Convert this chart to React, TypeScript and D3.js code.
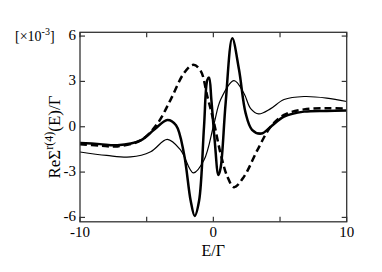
import React from "react";
import * as d3 from "d3";

const thinE = [-10, -8, -6.2, -4.7, -3.45, -2.45, -1.5, -0.7, 0.05, 0.55, 1.55, 2.3, 2.8, 3.4, 4.3, 5.3, 6.8, 8.5, 10];
const thinV = [-1.67, -1.9, -2.0, -1.65, -0.84, -1.55, -3.05, -2.2, 0.2, 1.8, 3.05, 2.2, 1.2, 0.85, 1.2, 1.8, 2.0, 1.9, 1.67];

const thickE = [-10, -8.5, -7.2, -5.45, -4.45, -3.45, -2.8, -2.2, -1.7, -1.4, -1.07, -0.7, -0.45, -0.32, -0.15, 0.1, 0.38, 0.55, 0.92, 1.42, 1.92, 2.42, 2.9, 3.6, 4.3, 5.3, 6.8, 8.5, 10];
const thickV = [-1.07, -1.15, -1.22, -0.9, -0.2, 0.45, 0.1, -1.8, -4.9, -5.9, -4.9, 0, 3.1, 3.25, 1.8, -0.9, -3.2, -2.7, 1.55, 5.85, 3.8, 0.9, -0.2, -0.45, 0, 0.67, 1.0, 1.05, 1.07];

const dashE = [-10, -8.5, -7.2, -5.45, -4.2, -3.2, -2.2, -1.5, -0.95, -0.45, 0, 0.55, 1.05, 1.55, 2.3, 3.3, 4.3, 5.3, 6.8, 8.5, 10];
const dashV = [-1.15, -1.25, -1.3, -0.9, 0.2, 1.8, 3.55, 4.1, 3.7, 2.0, 0.45, -1.8, -3.3, -4.0, -3.3, -1.55, 0, 0.78, 1.15, 1.22, 1.2];

const xTicks = [-10, -5, 0, 5, 10];
const xLabels = ["-10", "", "0", "", "10"];
const yTicks = [-6, -3, 0, 3, 6];
const yLabels = ["-6", "-3", "0", "3", "6"];

export default function App() {
  const W = 382, H = 272;
  const left = 80, right = 346.7, top = 32.3, bottom = 221.8;
  const x = d3.scaleLinear().domain([-10, 10]).range([left, right]);
  const y = d3.scaleLinear().domain([-6.29, 6.25]).range([bottom, top]);
  const line = (es: number[], vs: number[]) =>
    d3.line<number>().x((_, i) => x(es[i])).y((_, i) => y(vs[i])).curve(d3.curveCatmullRom.alpha(0.5))(vs) || "";
  const ts: React.CSSProperties = { fontFamily: '"Liberation Serif", "DejaVu Serif", serif' };
  const tl = 5;
  return (
    <svg width={W} height={H} style={{ position: "absolute", left: 0, top: 0 }}>
      <rect x={0} y={0} width={W} height={H} fill="#fff" />
      <defs>
        <clipPath id="pc"><rect x={left} y={top} width={right - left} height={bottom - top} /></clipPath>
      </defs>
      <g clipPath="url(#pc)" fill="none" stroke="#000">
        <path d={line(thinE, thinV)} strokeWidth={1.2} />
        <path d={line(thickE, thickV)} strokeWidth={2.5} />
        <path d={line(dashE, dashV)} strokeWidth={2.5} strokeDasharray="7,4" />
      </g>
      <rect x={left} y={top} width={right - left} height={bottom - top} fill="none" stroke="#333" strokeWidth={1.3} />
      {xTicks.map((t, i) => (
        <g key={"x" + i}>
          <line x1={x(t)} x2={x(t)} y1={bottom} y2={bottom - tl} stroke="#333" strokeWidth={1.2} />
          <line x1={x(t)} x2={x(t)} y1={top} y2={top + tl} stroke="#333" strokeWidth={1.2} />
          <text x={x(t)} y={bottom + 15} fontSize={15} textAnchor="middle" style={ts}>{xLabels[i]}</text>
        </g>
      ))}
      {yTicks.map((t, i) => (
        <g key={"y" + i}>
          <line x1={left} x2={left + tl} y1={y(t)} y2={y(t)} stroke="#333" strokeWidth={1.2} />
          <line x1={right} x2={right - tl} y1={y(t)} y2={y(t)} stroke="#333" strokeWidth={1.2} />
          <text x={left - 4} y={y(t) + 4} fontSize={15} textAnchor="end" style={ts}>{yLabels[i]}</text>
        </g>
      ))}
      <text x={213.3} y={256} fontSize={16} textAnchor="middle" style={ts}>E/Γ</text>
      <text x={15} y={41} fontSize={14} style={ts}>[×10<tspan dy={-6} fontSize={10}>-3</tspan><tspan dy={6}>]</tspan></text>
      <text transform={`translate(60,137) rotate(-90)`} fontSize={17} textAnchor="middle" style={ts}>
        ReΣ<tspan dy={-7} fontSize={12}>r(4)</tspan><tspan dy={7}>(E)/Γ</tspan>
      </text>
    </svg>
  );
}
